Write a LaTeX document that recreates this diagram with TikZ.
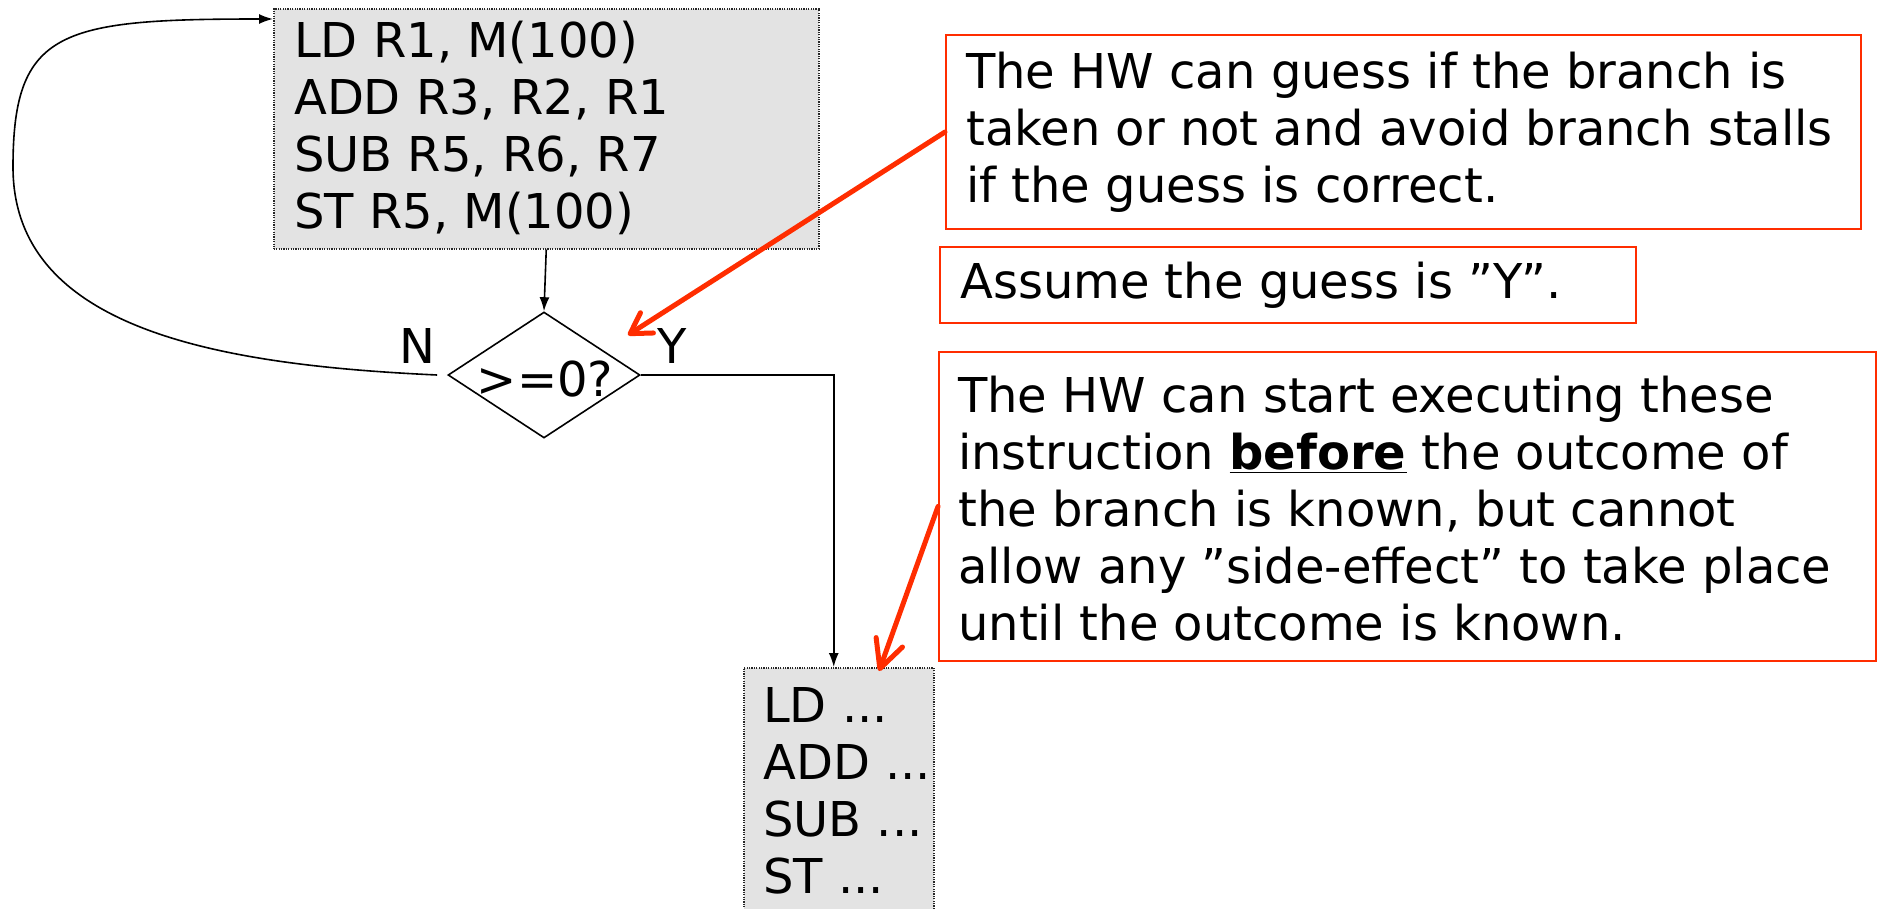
\documentclass[tikz,border=0pt]{standalone}
\usepackage{fontspec}
\setmainfont{DejaVu Sans}
\usetikzlibrary{shapes.geometric,arrows.meta}
\definecolor{hlred}{RGB}{255,45,0}
\definecolor{boxgray}{RGB}{227,227,227}
\begin{document}
\begin{tikzpicture}[x=1pt,y=-1pt,
  txt/.style={inner sep=0pt, align=left, font=\fontsize{48}{57}\selectfont},
  graybox/.style={draw=black!85, fill=boxgray, line width=1.5pt, dash pattern=on 1.2pt off 1.2pt, inner sep=0pt, anchor=north west},
  notebox/.style={draw=hlred, line width=2pt, inner sep=0pt, anchor=north west},
  conn/.style={line width=1.6pt, -{Latex[length=14pt,width=10pt]}},
  redarrow/.style={draw=hlred, line width=5pt, line cap=round, -{Straight Barb[length=20pt,width=24pt,round]}},
]
\useasboundingbox (0,0) rectangle (1879,908);
\clip (0,0) rectangle (1879,908);

% top instruction box
\node[graybox, minimum width=545pt, minimum height=240pt] (top) at (273,8) {};
\node[txt, anchor=west] (toptext) at (294,128) {LD R1, M(100)\\ADD R3, R2, R1\\SUB R5, R6, R7\\ST R5, M(100)};

% decision diamond
\node[draw, diamond, line width=1.6pt, minimum width=192pt, minimum height=126pt, inner sep=0pt] (dia) at (544,375) {};
\node[font=\fontsize{48}{57}\selectfont, inner sep=0pt] (dtext) at (545,379) {>=0?};
\node[txt] (nlab) at (417,346) {N};
\node[txt] (ylab) at (672,346) {Y};

% bottom instruction box
\node[graybox, minimum width=190pt, minimum height=260pt] (bot) at (743,667) {};
\node[txt, anchor=west] (bottext) at (763,791) {LD ...\\ADD ...\\SUB ...\\ST ...};

% note boxes
\node[notebox, minimum width=915pt, minimum height=194pt] (b1) at (945,34) {};
\node[txt, anchor=west] (b1t) at (966,132) {The HW can guess if the branch is\\taken or not and avoid branch stalls\\if the guess is correct.};
\node[notebox, minimum width=696pt, minimum height=76pt] (b2) at (939,246) {};
\node[txt, anchor=west] (b2t) at (960,285) {Assume the guess is ”Y”.};
\node[notebox, minimum width=937pt, minimum height=309pt] (b3) at (938,351) {};
\node[txt, anchor=west] (b3t) at (958,509) {The HW can start executing these\\instruction \underline{\textbf{before}} the outcome of\\the branch is known, but cannot\\allow any ”side-effect” to take place\\until the outcome is known.};

% connectors
\draw[conn] (top.south) -- (dia.north);
\draw[conn] (dia.east) -| ([xshift=-5pt]bot.north);
\coordinate (loopL) at (13,167);
\draw[conn] ([xshift=-10pt]dia.west) .. controls (220,365) and (13,330) .. (loopL) .. controls (13,30) and (60,19) .. ([yshift=-11pt]top.north west);

% red pointers
\coordinate (t1) at (628,335);
\draw[redarrow] (b1.west) -- (t1);
\coordinate (t2) at (879,671);
\draw[redarrow, -{Straight Barb[length=28pt,width=28pt,round]}] (b3.west) -- (t2);
\end{tikzpicture}
\end{document}
